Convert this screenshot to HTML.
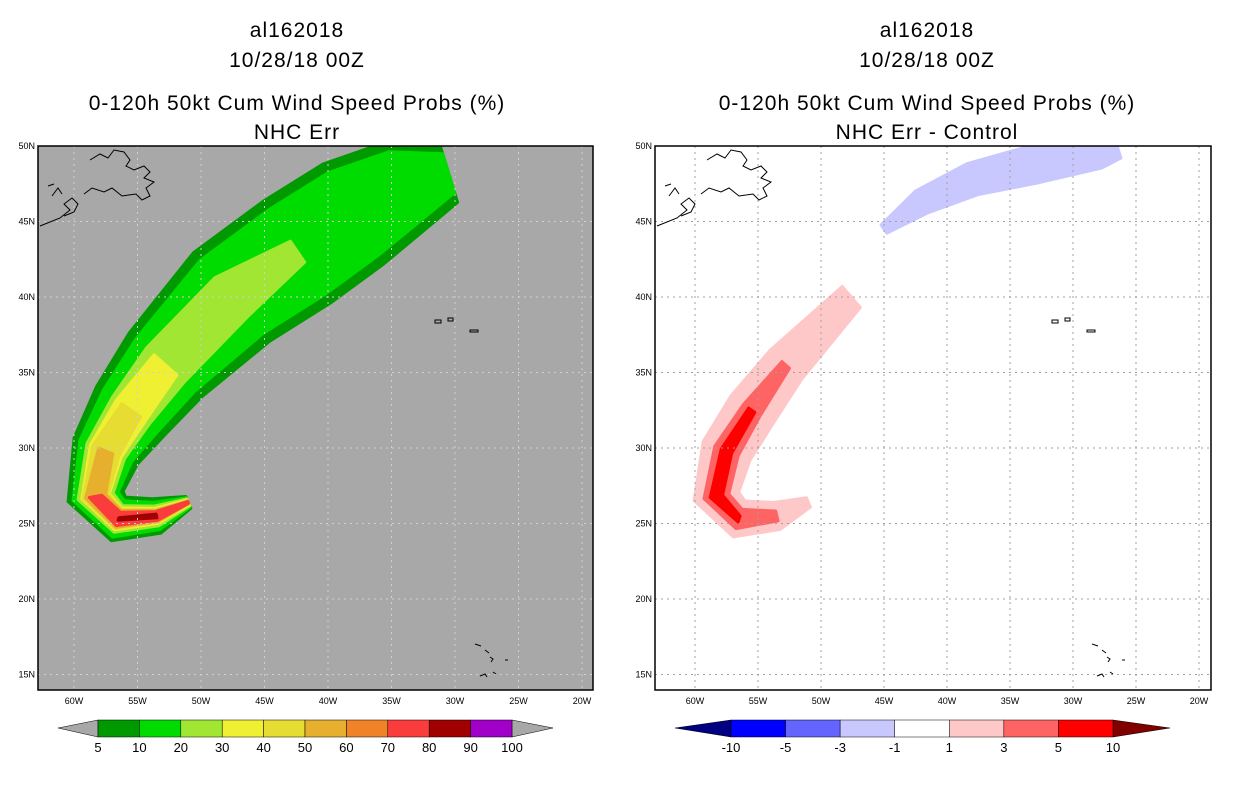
<!DOCTYPE html>
<html><head><meta charset="utf-8">
<style>
body{margin:0;background:#fff;width:1236px;height:800px;overflow:hidden}
svg text{font-family:"Liberation Sans",sans-serif}
</style></head>
<body>
<svg id="svg" width="1236" height="800" xmlns="http://www.w3.org/2000/svg">
<defs>
<clipPath id="clipL"><rect x="38" y="146" width="555" height="544"/></clipPath>
<clipPath id="clipR"><rect x="655" y="146" width="556" height="544"/></clipPath>
</defs>
<g font-size="21" text-anchor="middle" fill="#000" letter-spacing="1">
<text x="297" y="37">al162018</text>
<text x="297" y="67">10/28/18 00Z</text>
<text x="297" y="110">0-120h 50kt Cum Wind Speed Probs (%)</text>
<text x="297" y="139">NHC Err</text>
</g>
<g font-size="21" text-anchor="middle" fill="#000" letter-spacing="1">
<text x="927" y="37">al162018</text>
<text x="927" y="67">10/28/18 00Z</text>
<text x="927" y="110">0-120h 50kt Cum Wind Speed Probs (%)</text>
<text x="927" y="139">NHC Err - Control</text>
</g>
<rect x="38" y="146" width="555" height="544" fill="#a8a8a8"/>
<rect x="655" y="146" width="556" height="544" fill="#fff"/>
<g id="gL" clip-path="url(#clipL)"></g>
<g id="gR" clip-path="url(#clipR)"></g>
<rect x="38" y="146" width="555" height="544" fill="none" stroke="#000" stroke-width="1.5"/>
<rect x="655" y="146" width="556" height="544" fill="none" stroke="#000" stroke-width="1.5"/>
<g id="axes"></g>
<g id="cbL"></g>
<g id="cbR"></g>
</svg>
<script>
// ---- data ----
const lonTicks = [60,55,50,45,40,35,30,25,20];
const latTicks = [50,45,40,35,30,25,20,15];
// swath track (deg W, deg N)
const trackW = [51.0,53.5,56.5,58.3,57.5,55.5,52.8,47.6,42.4,38.0,34.0,30.5];
const trackN = [26.4,25.5,25.3,26.8,29.8,32.5,35.5,40.0,43.0,45.5,47.3,48.2];
// half widths (deg) per probability level
const probLevels = [5,10,20,30,40,50,70,80];
const probColors = ["#009a00","#00dc00","#a0e632","#f0f032","#e6dc32","#e6af2d","#fa3c3c","#a00000"];
const probWidths = [
 [0.5,1.4,1.8,2.2,2.7,3.3,3.8,4.6,4.8,4.6,3.8,2.4],
 [0.4,1.1,1.5,1.8,2.2,2.7,3.1,3.8,4.0,3.8,3.0,1.6],
 [0.3,0.8,1.1,1.4,1.6,1.8,2.0,2.0,1.0,0,0,0],
 [0.2,0.6,0.9,1.1,1.3,1.4,1.2,0,0,0,0,0],
 [0.15,0.5,0.8,1.0,1.1,0.9,0,0,0,0,0,0],
 [0.1,0.45,0.7,0.8,0.6,0,0,0,0,0,0,0],
 [0.08,0.35,0.55,0.5,0,0,0,0,0,0,0,0],
 [0,0.15,0.1,0,0,0,0,0,0,0,0,0]
];
const diffColors = ["#ffc8c8","#ff6464","#ff0000"];
const diffWidths = [
 [0.4,1.1,1.5,1.8,2.0,2.0,1.7,1.1,0,0,0,0],
 [0,0.4,0.8,1.0,1.0,0.8,0.4,0,0,0,0,0],
 [0,0,0.25,0.5,0.45,0.3,0,0,0,0,0,0]
];
const blueW = [45.0,42.0,38.0,33.0,28.0,26.5];
const blueN = [44.5,46.3,47.8,48.8,49.6,50.0];
const blueWidths = [0.4,1.0,1.3,1.5,1.3,1.0];
const cbLLabels = ["5","10","20","30","40","50","60","70","80","90","100"];
const cbLColors = ["#009a00","#00dc00","#a0e632","#f0f032","#e6dc32","#e6af2d","#f08228","#fa3c3c","#a00000","#a000c8"];
const cbRLabels = ["-10","-5","-3","-1","1","3","5","10"];
const cbRColors = ["#0000ff","#6464ff","#c8c8ff","#ffffff","#ffc8c8","#ff6464","#ff0000"];

const NS="http://www.w3.org/2000/svg";
function mk(t,a,p){const e=document.createElementNS(NS,t);for(const k in a)e.setAttribute(k,a[k]);p.appendChild(e);return e;}
const panels={L:{x60:74,s:12.7,g:document.getElementById('gL')},R:{x60:695,s:12.6,g:document.getElementById('gR')}};
function px(P,w){return P.x60+(60-w)*P.s;}
function py(n){return 146+(50-n)*15.1;}

function swath(P,W,N,hw,color,name){
  const pts=W.map((w,i)=>[px(P,w),py(N[i])]);
  let idx=[];hw.forEach((h,i)=>{if(h>0)idx.push(i)});
  if(!idx.length)return;
  const L=[],R=[];
  idx.forEach(i=>{
    const a=pts[Math.max(0,i-1)],b=pts[Math.min(pts.length-1,i+1)];
    let tx=b[0]-a[0],ty=b[1]-a[1];const d=Math.hypot(tx,ty)||1;tx/=d;ty/=d;
    const h=hw[i]*P.s;
    L.push([pts[i][0]-ty*h,pts[i][1]+tx*h]);R.push([pts[i][0]+ty*h,pts[i][1]-tx*h]);
  });
  const poly=L.concat(R.reverse());
  const e=mk('polygon',{points:poly.map(p=>p[0].toFixed(1)+','+p[1].toFixed(1)).join(' '),fill:color,stroke:color,'stroke-width':3,'stroke-linejoin':'round'},P.g);
  
  
}
probWidths.forEach((hw,k)=>swath(panels.L,trackW,trackN,hw,probColors[k],'prob-contour-'+probLevels[k]));
diffWidths.forEach((hw,k)=>swath(panels.R,trackW,trackN,hw,diffColors[k],'diff-contour-'+(k+1)));
swath(panels.R,blueW,blueN,blueWidths,"#c8c8ff",'diff-contour-negative');

// grid + coast + ticks
const ax=document.getElementById('axes');
['L','R'].forEach(k=>{
  const P=panels[k],g=P.g;
  const x0=k=='L'?38:655,x1=k=='L'?593:1211;
  const gc=k=='L'?'#d0d0d0':'#a0a0a0';
  lonTicks.forEach(w=>{const x=px(P,w);
    const l=mk('line',{x1:x,x2:x,y1:146,y2:690,stroke:gc,'stroke-dasharray':'2,4','stroke-width':1},g);
    
    const t=mk('text',{x:x,y:704,'font-size':9,'text-anchor':'middle'},ax);t.textContent=w+'W';
    
  });
  latTicks.forEach(n=>{const y=py(n);
    const l=mk('line',{x1:x0,x2:x1,y1:y,y2:y,stroke:gc,'stroke-dasharray':'2,4','stroke-width':1},g);
    
    const t=mk('text',{x:x0-3,y:y+3,'font-size':9,'text-anchor':'end'},ax);t.textContent=n+'N';
    
  });
  const c=(d,nm)=>{const e=mk('path',{d:d,fill:'none',stroke:'#000','stroke-width':1},g);};
  const o=x0-38;
  c(`M${o+90},160 l10,-6 l8,4 l6,-8 l10,2 l6,8 l-4,6 l8,4 l10,-4 l6,6 l-6,6 l10,4 l-8,6 l4,8 l-8,4 l-6,-6 l-14,2 l-10,-8 l-8,4 l-12,-4 l-8,6`,'coast-newfoundland');
  c(`M${o+40},226 l20,-8 l10,-8 l-6,-6 l8,-6 l6,6 l-4,8 l-10,4 M${o+52},196 l6,-8 l4,6 M${o+48},186 l6,-2`,'coast-nova-scotia');
  c(`M${o+435},320 l6,0 l0,3 l-6,0z M${o+448},318 l5,0 l0,3 l-5,0z M${o+470},330 l8,0 l0,2 l-8,0z`,'coast-azores');
  c(`M${o+475},644 l6,2 M${o+485},650 l4,3 M${o+490},657 l3,2 l-2,3 M${o+505},660 l3,0 M${o+480},676 l5,-2 l2,3 M${o+493},672 l3,2`,'coast-cape-verde');
  c(`M${o+3},636 l4,6 M${o+10},646 l6,4 M${o+14},656 l4,4 l-3,3 M${o+20},660 l3,2 M${o+22},676 l6,8`,'coast-caribbean');
});

// colorbars
const cbL=document.getElementById('cbL');
let e=mk('polygon',{points:'58,728 98,720 98,737',fill:'#a8a8a8',stroke:'#000','stroke-width':0.5},cbL);
e=mk('polygon',{points:'553,728 512,720 512,737',fill:'#a8a8a8',stroke:'#000','stroke-width':0.5},cbL);
const bwL=(512-98)/cbLColors.length;
cbLColors.forEach((col,i)=>{const r=mk('rect',{x:98+i*bwL,y:720,width:bwL,height:17,fill:col,stroke:'#000','stroke-width':0.5},cbL);});
cbLLabels.forEach((s,i)=>{const t=mk('text',{x:98+i*bwL,y:752,'font-size':13,'text-anchor':'middle'},cbL);t.textContent=s;});
const cbR=document.getElementById('cbR');
e=mk('polygon',{points:'675,728 731,720 731,737',fill:'#000080',stroke:'#000','stroke-width':0.5},cbR);
e=mk('polygon',{points:'1170,728 1113,720 1113,737',fill:'#800000',stroke:'#000','stroke-width':0.5},cbR);
const bwR=(1113-731)/cbRColors.length;
cbRColors.forEach((col,i)=>{const r=mk('rect',{x:731+i*bwR,y:720,width:bwR,height:17,fill:col,stroke:'#000','stroke-width':0.5},cbR);});
cbRLabels.forEach((s,i)=>{const t=mk('text',{x:731+i*bwR,y:752,'font-size':13,'text-anchor':'middle'},cbR);t.textContent=s;});
</script>
</body></html>
